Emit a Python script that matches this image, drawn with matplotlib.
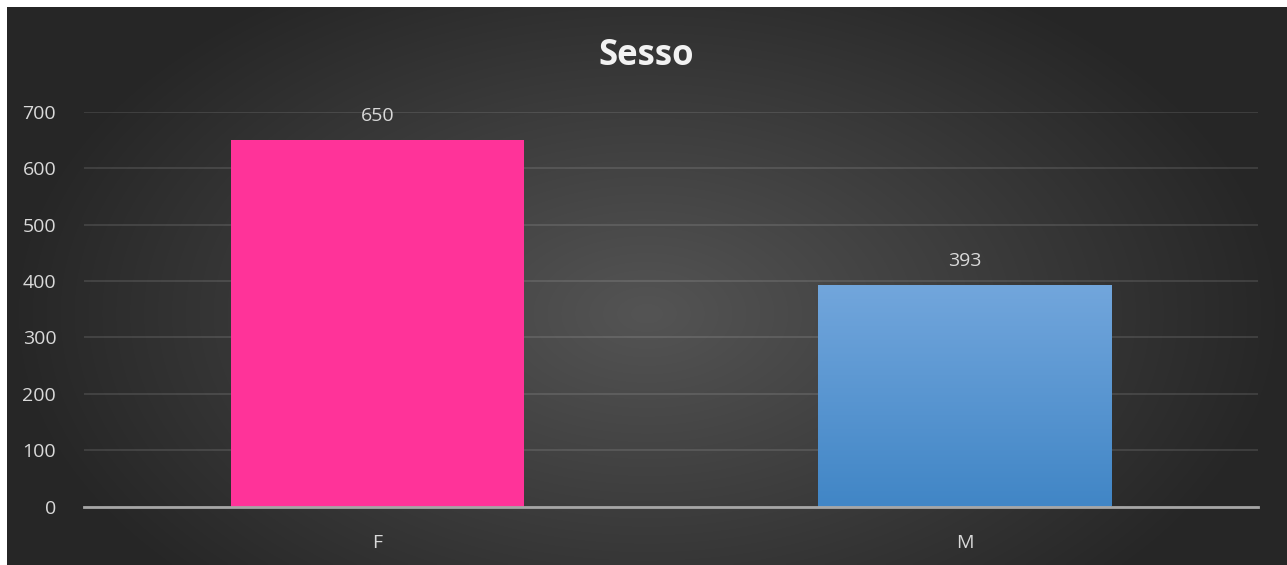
import numpy as np
import matplotlib.pyplot as plt

plt.rcParams['font.family'] = ['Open Sans', 'DejaVu Sans']

categories = ['F', 'M']
values = [650, 393]
title = 'Sesso'
yticks = [0, 100, 200, 300, 400, 500, 600, 700]

W, H = 1287, 565
fig = plt.figure(figsize=(W / 100, H / 100), dpi=100, facecolor='white')

# dark radial background panel (white strip on left/top only)
bg = fig.add_axes([7 / W, 0, (W - 7) / W, (H - 7) / H])
bg.set_axis_off()
gx, gy = np.meshgrid(np.linspace(-1, 1, 400), np.linspace(-1, 1, 200))
r = np.sqrt((gx / 1.0) ** 2 + ((gy - 0.1) / 1.4) ** 2)
r = np.clip(r, 0, 1)
shade = 0.33 - 0.18 * r
bg.imshow(np.dstack([shade, shade, shade]), aspect='auto', extent=[0, 1, 0, 1],
          interpolation='bilinear')
bg.set_xlim(0, 1)
bg.set_ylim(0, 1)

ax = fig.add_axes([84 / W, (H - 506.5) / H, (1258 - 84) / W, (506.5 - 112) / H])
ax.patch.set_alpha(0)

x = np.arange(len(categories))
bars = ax.bar(x, values, width=0.5, color=['#FF3399', '#5B9BD5'], zorder=3)

# gradient fill for M bar
m = bars[1]
grad = np.linspace(0, 1, 100).reshape(-1, 1)
top = np.array([0x72, 0xA6, 0xDC]) / 255
bot = np.array([0x41, 0x86, 0xC6]) / 255
img = grad[..., None] * bot + (1 - grad[..., None]) * top
im = ax.imshow(img, aspect='auto', zorder=4,
               extent=[m.get_x(), m.get_x() + m.get_width(), 0, m.get_height()],
               origin='upper')
im.set_clip_path(m)

ax.set_xlim(-0.5, 1.5)
ax.set_ylim(0, 700)
ax.set_yticks(yticks)
ax.set_xticks(x)
ax.set_xticklabels(categories)
ax.grid(axis='y', color='white', alpha=0.12, linewidth=1.3, zorder=0)
ax.set_axisbelow(True)
for s in ['top', 'right', 'left']:
    ax.spines[s].set_visible(False)
ax.spines['bottom'].set_color('#A6A6A6')
ax.spines['bottom'].set_linewidth(2)
ax.spines['bottom'].set_zorder(5)
ax.tick_params(axis='both', length=0, colors='#D9D9D9', labelsize=14)
ax.tick_params(axis='y', pad=20)
ax.tick_params(axis='x', pad=20)

for xi, v in zip(x, values):
    ax.annotate(str(v), (xi, v), xytext=(0, 11), textcoords='offset points',
                ha='center', va='bottom', color='#D9D9D9', fontsize=14)

fig.text(646 / W, 1 - 56 / H, title, ha='center', va='center', color='#F2F2F2',
         fontsize=25, fontweight='bold')

fig.savefig('out.png', dpi=100, facecolor='white')
